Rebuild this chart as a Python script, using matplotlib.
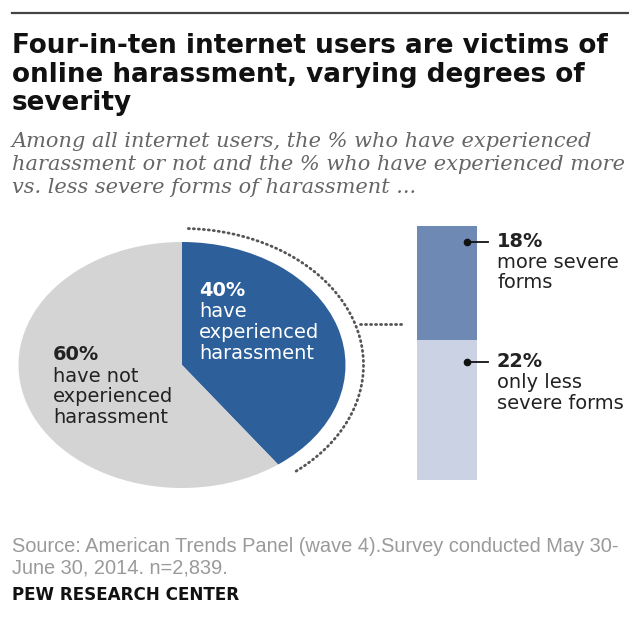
import matplotlib
matplotlib.use("Agg")
import matplotlib.pyplot as plt
import numpy as np

# ---------------- data ----------------
pie_labels = ["have experienced harassment", "have not experienced harassment"]
pie_values = [40, 60]
bar_labels = ["only less severe forms", "more severe forms"]
bar_values = [22, 18]

title_lines = ["Four-in-ten internet users are victims of",
               "online harassment, varying degrees of",
               "severity"]
subtitle_lines = ["Among all internet users, the % who have experienced",
                  "harassment or not and the % who have experienced more",
                  "vs. less severe forms of harassment ..."]
source_lines = ["Source: American Trends Panel (wave 4).Survey conducted May 30-",
                "June 30, 2014. n=2,839."]
credit = "PEW RESEARCH CENTER"

# ---------------- style ----------------
W, H = 629, 624
BLUE = "#2d5f9a"
GRAY = "#d4d4d4"
BAR_DARK = "#6e89b4"
BAR_LIGHT = "#cbd2e3"
DOT = "#555555"

fig = plt.figure(figsize=(W / 100, H / 100), dpi=100)
fig.patch.set_facecolor("white")
renderer = fig.canvas.get_renderer()


def fx(x):
    return x / W


def fy(y):
    return 1 - y / H


def fit_size(text, width_px, **kw):
    t = fig.text(0, 0, text, fontsize=10, **kw)
    w = t.get_window_extent(renderer).width
    t.remove()
    return 10 * width_px / w


def ptext(x, y, s, **kw):
    return fig.text(fx(x), fy(y), s, va="baseline", ha="left", **kw)


# top rule
fig.add_artist(plt.Line2D([fx(12), 1.0], [fy(13), fy(13)], color="#444444", lw=1.6))

# title
tkw = dict(family="DejaVu Sans", weight="bold", color="#111111")
tsize = fit_size(title_lines[0], 595, **tkw)
for line, yb in zip(title_lines, [53, 82, 110]):
    ptext(12, yb, line, fontsize=tsize, **tkw)

# subtitle
skw = dict(family="DejaVu Serif", style="italic", color="#666666")
ssize = fit_size(subtitle_lines[1], 611, **skw)
for line, yb in zip(subtitle_lines, [147, 170, 193]):
    ptext(12, yb, line, fontsize=ssize, **skw)

# ---------------- pie ----------------
cx, cy = 182, 365
rx, ry = 163.5, 123.0
lim = 1.3
ax = fig.add_axes([fx(cx - lim * rx), fy(cy + lim * ry), 2 * lim * rx / W, 2 * lim * ry / H])
ax.pie(pie_values, colors=[BLUE, GRAY], startangle=90, counterclock=False, radius=1.0,
       wedgeprops=dict(linewidth=0))
ax.set_aspect("auto")
ax.set_xlim(-lim, lim)
ax.set_ylim(-lim, lim)
ax.axis("off")

# dotted arc around the 40% slice
frac = pie_values[0] / sum(pie_values)
theta = np.linspace(np.deg2rad(88), np.deg2rad(90 - 360 * frac + 2), 200)
r_arc = 1.11
ax.plot(r_arc * np.cos(theta), r_arc * np.sin(theta), color=DOT, lw=2.0,
        linestyle=(0, (0.4, 1.4)), dash_capstyle="round", clip_on=False)
# leader to the bar
ly = (cy - 324) / ry
ax.plot([np.sqrt(max(r_arc**2 - ly**2, 0)) + 0.03, (405 - cx) / rx], [ly, ly], color=DOT, lw=2.0,
        linestyle=(0, (0.4, 1.4)), dash_capstyle="round", clip_on=False)

# pie labels
lkw = dict(family="DejaVu Sans")
lsize = fit_size("experienced", 120, **lkw)
for s, yb, w in zip(["60%", "have not", "experienced", "harassment"], [360, 382, 402, 423],
                    ["bold", "normal", "normal", "normal"]):
    ptext(53, yb, s, fontsize=lsize, weight=w, color="#222222", **lkw)
for s, yb, w in zip(["40%", "have", "experienced", "harassment"], [296, 317, 338, 359],
                    ["bold", "normal", "normal", "normal"]):
    ptext(199, yb, s, fontsize=lsize, weight=w, color="white", **lkw)

# ---------------- stacked bar ----------------
bx0, bx1, by0, by1 = 417, 477, 226, 480
bax = fig.add_axes([fx(bx0), fy(by1), (bx1 - bx0) / W, (by1 - by0) / H])
bax.bar([0], [bar_values[0]], width=1.0, color=BAR_LIGHT, linewidth=0)
bax.bar([0], [bar_values[1]], width=1.0, bottom=[bar_values[0]], color=BAR_DARK, linewidth=0)
bax.set_xlim(-0.5, 0.5)
bax.set_ylim(0, sum(bar_values))
bax.axis("off")

# bar annotations
for (s1, lines, ydot, ybs) in [
    ("18%", ["more severe", "forms"], 242, [247, 268, 288]),
    ("22%", ["only less", "severe forms"], 362, [367, 388, 409]),
]:
    fig.add_artist(plt.Line2D([fx(467), fx(488)], [fy(ydot), fy(ydot)], color="#111111", lw=1.3))
    fig.add_artist(plt.Line2D([fx(467)], [fy(ydot)], marker="o", markersize=4.5, color="#111111"))
    ptext(497, ybs[0], s1, fontsize=lsize, weight="bold", color="#222222", **lkw)
    for s, yb in zip(lines, ybs[1:]):
        ptext(497, yb, s, fontsize=lsize, color="#222222", **lkw)

# ---------------- source ----------------
srckw = dict(family="Liberation Sans", color="#9a9a9a")
srcsize = fit_size(source_lines[0], 610, **srckw)
for line, yb in zip(source_lines, [552, 573]):
    ptext(12, yb, line, fontsize=srcsize, **srckw)
ckw = dict(family="DejaVu Sans", weight="bold", color="#111111")
csize = fit_size(credit, 228, **ckw)
ptext(12, 600, credit, fontsize=csize, **ckw)

fig.savefig("out.png", dpi=100, facecolor="white")
